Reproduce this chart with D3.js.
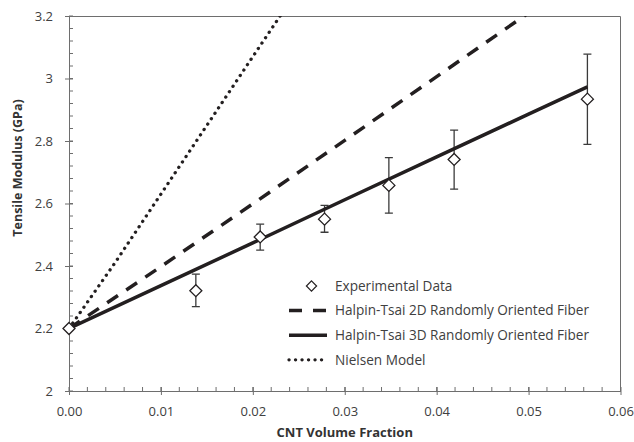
<!DOCTYPE html>
<html>
<head>
<meta charset="utf-8">
<script src="https://cdn.jsdelivr.net/npm/d3@7"></script>
<style>
  body { margin: 0; background: #fff; }
  svg { display: block; font-family: "Open Sans", sans-serif; }
</style>
</head>
<body>
<svg width="634" height="442"></svg>
<script>
// experimental data (CNT volume fraction, modulus, error bar low/high)
var expX   = [0, 0.0138, 0.0208, 0.0278, 0.0348, 0.0419, 0.0564];
var expY   = [2.2, 2.321, 2.493, 2.550, 2.658, 2.741, 2.934];
var expLo  = [2.2, 2.270, 2.451, 2.508, 2.569, 2.646, 2.789];
var expHi  = [2.2, 2.374, 2.534, 2.594, 2.747, 2.835, 3.078];

// model curves
var ht3dX = [0, 0.01, 0.02, 0.03, 0.04, 0.05, 0.0564];
var ht3dY = [2.2, 2.337, 2.474, 2.612, 2.749, 2.886, 2.973];
var ht2dX = [0, 0.01, 0.02, 0.03, 0.04, 0.05];
var ht2dY = [2.2, 2.398, 2.599, 2.802, 3.006, 3.21];
var nielX = [0, 0.005, 0.01, 0.015, 0.02, 0.0232];
var nielY = [2.2, 2.41, 2.63, 2.85, 3.07, 3.21];

var xTicks = [0, 0.01, 0.02, 0.03, 0.04, 0.05, 0.06];
var yTicks = [2, 2.2, 2.4, 2.6, 2.8, 3, 3.2];

var legendLabels = ["Experimental Data", "Halpin-Tsai 2D Randomly Oriented Fiber",
                    "Halpin-Tsai 3D Randomly Oriented Fiber", "Nielsen Model"];

var svg = d3.select("svg"),
    margin = {top: 16, right: 13.5, bottom: 51, left: 69},
    width = +svg.attr("width") - margin.left - margin.right,
    height = +svg.attr("height") - margin.top - margin.bottom;

var ink = "#231f20", axisCol = "#6e6e6e", textCol = "#404040";

var x = d3.scaleLinear().domain([0, 0.06]).range([0, width]);
var y = d3.scaleLinear().domain([2, 3.2]).range([height, 0]);

var g = svg.append("g")
    .attr("transform", "translate(" + margin.left + "," + margin.top + ")");

var clip = svg.append("defs").append("clipPath").attr("id", "plot")
    .append("rect").attr("width", width).attr("height", height);

// frame (top + right)
g.append("path")
    .attr("d", "M0,0.5H" + width + "V" + height)
    .attr("fill", "none").attr("stroke", axisCol).attr("stroke-width", 1);

// minor ticks (inside)
var xMinor = d3.range(0, 0.0601, 0.002);
g.append("g").selectAll("line").data(xMinor).enter().append("line")
    .attr("x1", d => x(d)).attr("x2", d => x(d))
    .attr("y1", height).attr("y2", height - 4)
    .attr("stroke", axisCol);
var yMinor = d3.range(2, 3.2001, 0.04);
g.append("g").selectAll("line").data(yMinor).enter().append("line")
    .attr("y1", d => y(d)).attr("y2", d => y(d))
    .attr("x1", 0).attr("x2", 4)
    .attr("stroke", axisCol);

// axes
var xAxis = g.append("g")
    .attr("transform", "translate(0," + height + ")")
    .call(d3.axisBottom(x).tickValues(xTicks).tickFormat(d3.format(".2f"))
        .tickSizeInner(4).tickSizeOuter(0).tickPadding(12));
var yAxis = g.append("g")
    .call(d3.axisLeft(y).tickValues(yTicks).tickFormat(d => d3.format("~g")(d))
        .tickSizeInner(4).tickSizeOuter(0).tickPadding(12));

[xAxis, yAxis].forEach(function(a) {
    a.select(".domain").attr("stroke", axisCol);
    a.selectAll(".tick line").attr("stroke", axisCol);
    a.selectAll(".tick text").attr("fill", textCol)
        .style("font-size", "13px").style("font-family", "'Open Sans', sans-serif");
});
// major ticks cross the axis
xAxis.selectAll(".tick line").attr("y1", -4).attr("y2", 4);
yAxis.selectAll(".tick line").attr("x1", -4).attr("x2", 4);

// axis titles
svg.append("text")
    .attr("x", margin.left + width / 2).attr("y", 437)
    .attr("text-anchor", "middle").attr("fill", "#333")
    .style("font-size", "13px").style("font-weight", "bold")
    .text("CNT Volume Fraction");
svg.append("text")
    .attr("transform", "translate(22,168) rotate(-90)")
    .attr("text-anchor", "middle").attr("fill", "#333")
    .style("font-size", "12.5px").style("font-weight", "bold")
    .text("Tensile Modulus (GPa)");

var line = d3.line().x(d => x(d[0])).y(d => y(d[1]));
var plot = g.append("g").attr("clip-path", "url(#plot)");

// error bars
var exp = expX.map((d, i) => ({x: d, y: expY[i], lo: expLo[i], hi: expHi[i]}));
var eb = plot.append("g").selectAll("g").data(exp.filter(d => d.hi > d.lo)).enter().append("g")
    .attr("stroke", "#3a3a3a").attr("stroke-width", 1.3);
eb.append("line").attr("x1", d => x(d.x)).attr("x2", d => x(d.x))
    .attr("y1", d => y(d.lo)).attr("y2", d => y(d.hi));
eb.append("line").attr("x1", d => x(d.x) - 4).attr("x2", d => x(d.x) + 4)
    .attr("y1", d => y(d.lo)).attr("y2", d => y(d.lo));
eb.append("line").attr("x1", d => x(d.x) - 4).attr("x2", d => x(d.x) + 4)
    .attr("y1", d => y(d.hi)).attr("y2", d => y(d.hi));

// diamonds
var diamond = "M0,-6L6,0L0,6L-6,0Z";
g.append("g").selectAll("path").data(exp).enter().append("path")
    .attr("d", diamond)
    .attr("transform", d => "translate(" + x(d.x) + "," + y(d.y) + ")")
    .attr("fill", "#fff").attr("stroke", ink).attr("stroke-width", 1.3);

// model lines
var styles = [
    {xs: ht2dX, ys: ht2dY, dash: "13,10", cap: "butt", w: 3.5},
    {xs: ht3dX, ys: ht3dY, dash: null, cap: "butt", w: 3.5},
    {xs: nielX, ys: nielY, dash: "0.1,6.4", cap: "round", w: 3.3}
];
styles.forEach(function(s) {
    plot.append("path")
        .datum(s.xs.map((d, i) => [d, s.ys[i]]))
        .attr("d", line)
        .attr("fill", "none").attr("stroke", ink)
        .attr("stroke-width", s.w).attr("stroke-linecap", s.cap)
        .attr("stroke-dasharray", s.dash);
});

// legend
var leg = svg.append("g").attr("transform", "translate(289,286)");
legendLabels.forEach(function(lbl, i) {
    var row = leg.append("g").attr("transform", "translate(0," + (i * 24.6) + ")");
    if (i === 0) {
        row.append("path").attr("d", diamond)
            .attr("transform", "translate(22.5,0) scale(0.85)")
            .attr("fill", "#fff").attr("stroke", ink).attr("stroke-width", 1.4);
    } else {
        var s = styles[i - 1];
        row.append("line").attr("x1", 0).attr("x2", i === 3 ? 36 : 38)
            .attr("y1", 0).attr("y2", 0)
            .attr("stroke", ink).attr("stroke-width", s.w)
            .attr("stroke-linecap", s.cap)
            .attr("stroke-dasharray", i === 1 ? "13,11" : s.dash);
    }
    row.append("text").attr("x", 46).attr("y", 0).attr("dy", "0.35em")
        .attr("fill", textCol).style("font-size", "13.6px")
        .text(lbl);
});
</script>
</body>
</html>
